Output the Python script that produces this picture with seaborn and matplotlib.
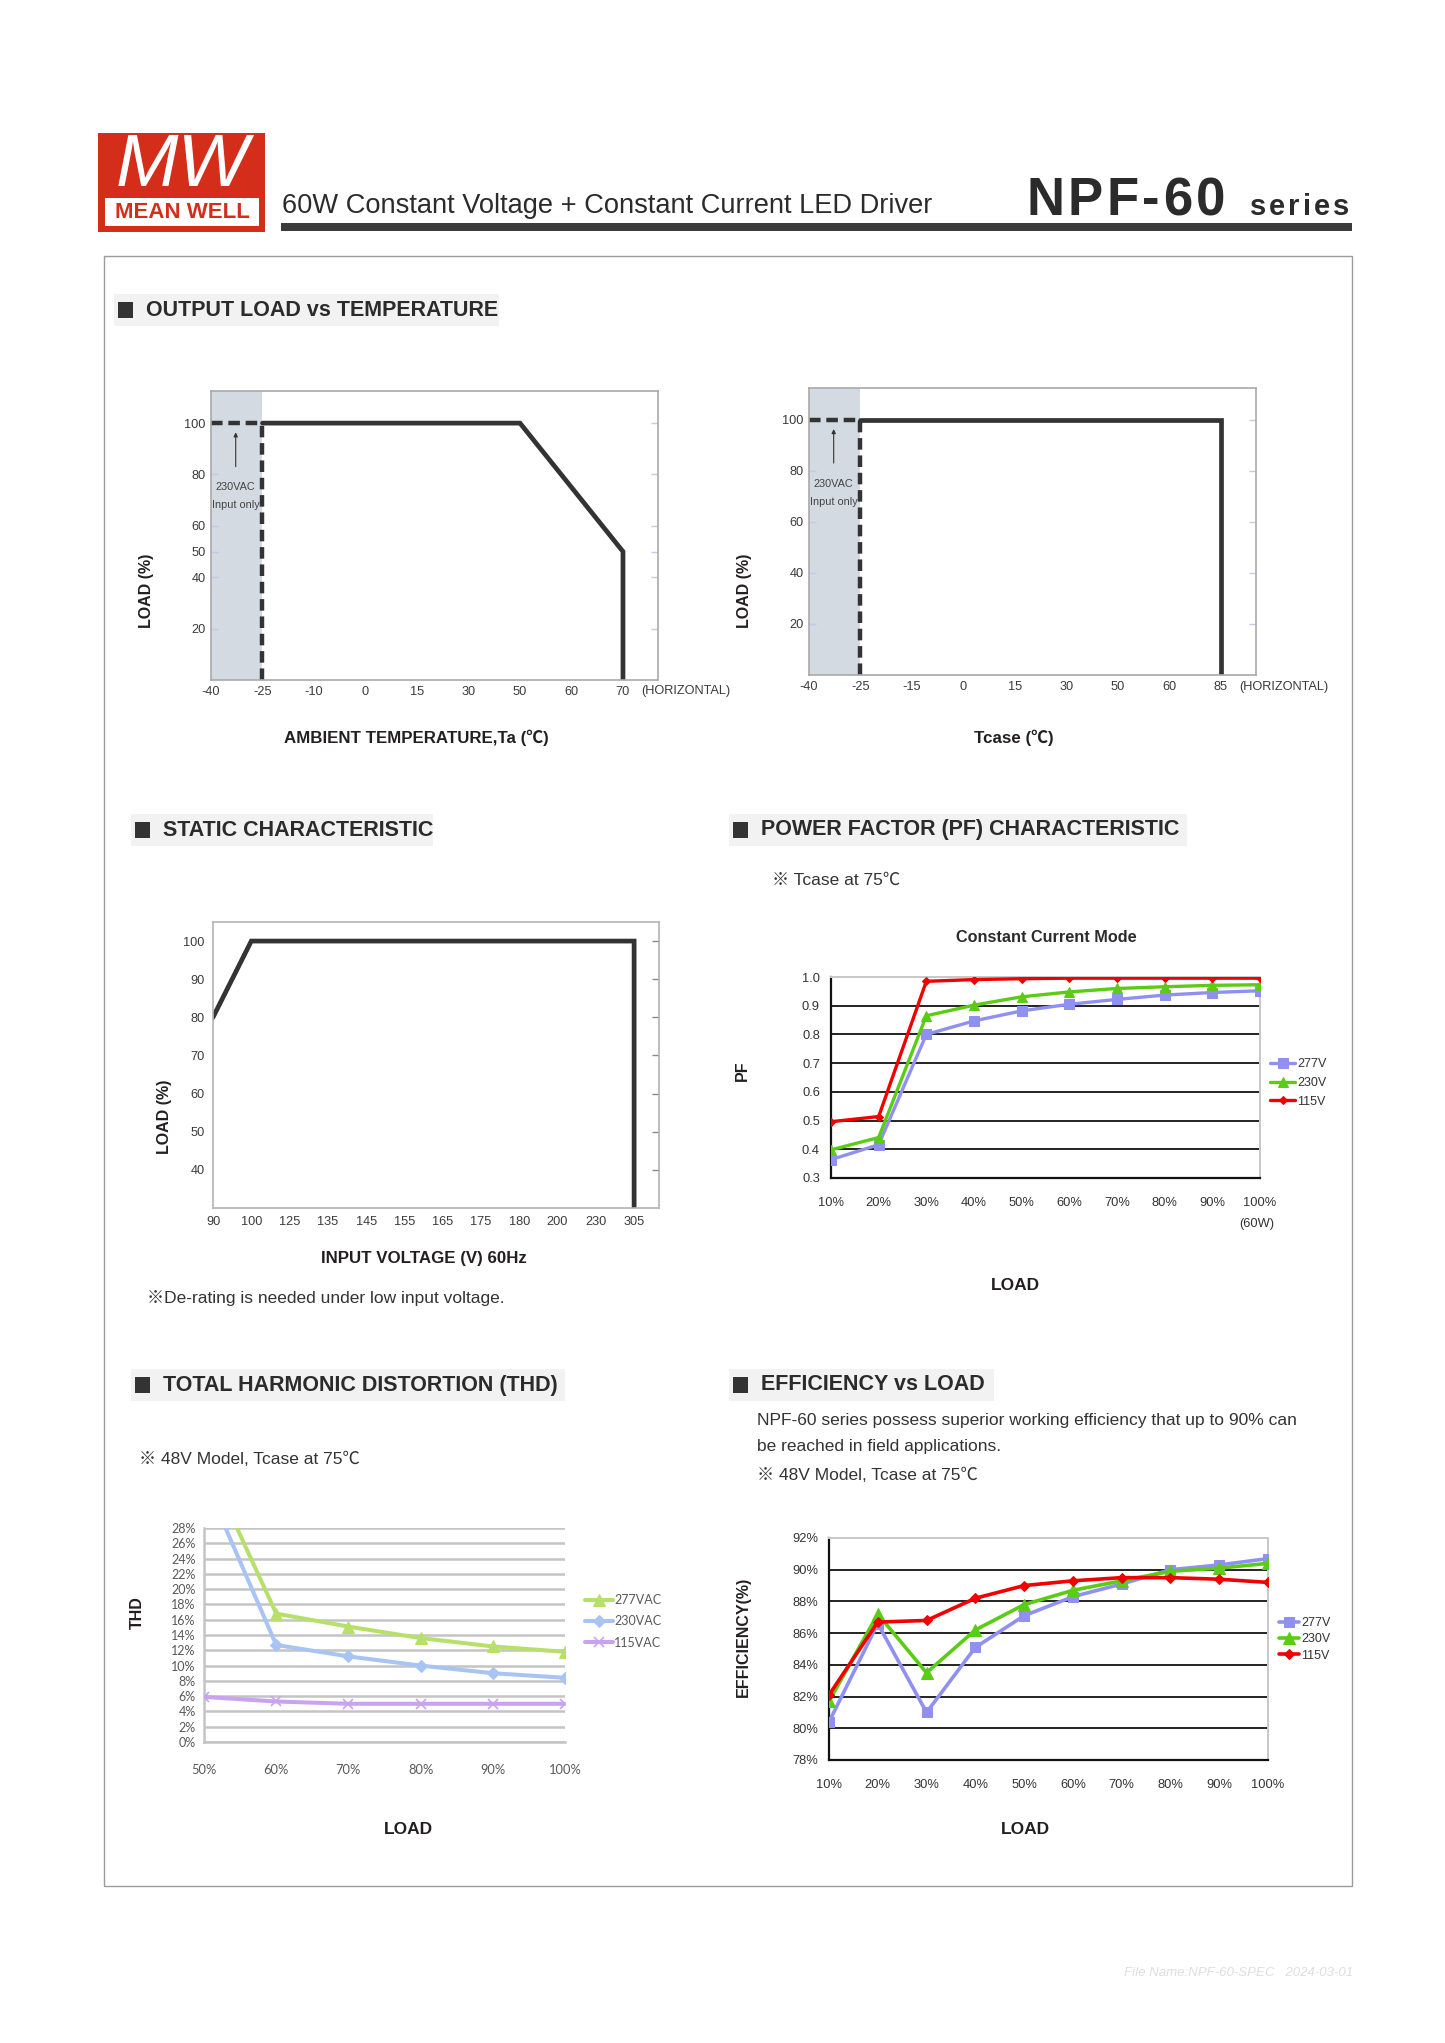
import numpy as np
import pandas as pd
import matplotlib
matplotlib.use("Agg")
import matplotlib.pyplot as plt
import seaborn as sns
from matplotlib import font_manager as fm
from matplotlib.patches import Rectangle

# ------------------------------------------------------------------ data
ta_ticks = ["-40", "-25", "-10", "0", "15", "30", "50", "60", "70"]
ta_curve_x = ["-25", "50", "70", "70"]
ta_curve_y = [100, 100, 50, 0]
ta_yticks = [20, 40, 50, 60, 80, 100]

tc_ticks = ["-40", "-25", "-15", "0", "15", "30", "50", "60", "85"]
tc_curve_x = ["-25", "85", "85"]
tc_curve_y = [100, 100, 0]
tc_yticks = [20, 40, 60, 80, 100]

ac_only_x = ["-40", "-25"]          # 230VAC-input-only region
ac_only_top = [100, 100]

vin_ticks = ["90", "100", "125", "135", "145", "155", "165", "175", "180", "200", "230", "305"]
vin_curve_x = ["90", "100", "305", "305"]
vin_curve_y = [80, 100, 100, 30]
vin_yticks = [40, 50, 60, 70, 80, 90, 100]

pf_load = [10, 20, 30, 40, 50, 60, 70, 80, 90, 100]
pf_277 = [0.364, 0.416, 0.800, 0.847, 0.882, 0.905, 0.922, 0.937, 0.946, 0.952]
pf_230 = [0.398, 0.441, 0.865, 0.902, 0.931, 0.948, 0.960, 0.966, 0.971, 0.973]
pf_115 = [0.496, 0.514, 0.985, 0.991, 0.994, 0.996, 0.996, 0.996, 0.996, 0.996]
pf_yticks = [0.3, 0.4, 0.5, 0.6, 0.7, 0.8, 0.9, 1.0]

thd_load = [50, 60, 70, 80, 90, 100]
thd_277 = [37.4, 16.8, 15.1, 13.6, 12.5, 11.8]
thd_230 = [34.5, 12.7, 11.2, 10.0, 9.0, 8.4]
thd_115 = [5.9, 5.3, 5.0, 5.0, 5.0, 5.0]
thd_yticks = list(range(0, 30, 2))

eff_load = [10, 20, 30, 40, 50, 60, 70, 80, 90, 100]
eff_277 = [80.4, 86.6, 81.0, 85.1, 87.1, 88.3, 89.1, 90.0, 90.3, 90.7]
eff_230 = [81.7, 87.2, 83.5, 86.2, 87.8, 88.7, 89.3, 89.9, 90.1, 90.4]
eff_115 = [82.1, 86.7, 86.8, 88.2, 89.0, 89.3, 89.5, 89.5, 89.4, 89.2]
eff_yticks = [78, 80, 82, 84, 86, 88, 90, 92]

# ------------------------------------------------------------------ fonts / style
sns.set_style("white")
names = {f.name for f in fm.fontManager.ttflist}
NARROW = "Liberation Sans Narrow" if "Liberation Sans Narrow" in names else "Liberation Sans"
FAM = [NARROW, "Noto Sans CJK JP", "DejaVu Sans"]
WIDE = ["Liberation Sans", "DejaVu Sans"]
XLF = ["Lato", "DejaVu Sans"]
plt.rcParams["font.family"] = FAM
plt.rcParams["axes.unicode_minus"] = False
TXT = "#231f20"

W, H = 1445, 2043
fig = plt.figure(figsize=(W / 100, H / 100), dpi=100)
fig.patch.set_facecolor("white")
REND = fig.canvas.get_renderer()


def axes_px(x0, y0, x1, y1):
    return fig.add_axes([x0 / W, 1 - y1 / H, (x1 - x0) / W, (y1 - y0) / H])


def ftext(x, y, s, **kw):
    kw.setdefault("color", TXT)
    return fig.text(x / W, 1 - y / H, s, **kw)


def frect(x0, y0, x1, y1, **kw):
    r = Rectangle((x0 / W, 1 - y1 / H), (x1 - x0) / W, (y1 - y0) / H,
                  transform=fig.transFigure, **kw)
    fig.add_artist(r)
    return r


def spaced(x0, y, s, gap, **kw):
    x = x0
    for ch in s:
        t = ftext(x, y, ch, ha="left", va="baseline", **kw)
        x += t.get_window_extent(renderer=REND).width + gap


# ------------------------------------------------------------------ header
frect(98, 133, 265, 232, color="#d42e1b", lw=0)
frect(105, 198, 259, 226, color="white", lw=0)
ftext(182, 167, "MW", ha="center", va="center", color="white", fontsize=54,
      style="italic", family=WIDE)
ftext(182, 213, "MEAN WELL", ha="center", va="center", color="#d42e1b",
      fontsize=16, weight="bold", family=WIDE)
ftext(282, 213, "60W Constant Voltage + Constant Current LED Driver", ha="left",
      va="baseline", fontsize=19.6, color="#2b2b2b")
spaced(1026, 215, "NPF-60", 3.5, fontsize=38, weight="bold", color="#2b2b2b")
spaced(1250, 215, "series", 3.0, fontsize=21, weight="bold", color="#2b2b2b")
frect(281, 223, 1352, 231, color="#3b3b3b", lw=0)

# page frame
frect(104, 256, 1352, 1886, fill=False, ec="#9c9c9c", lw=1)


def heading(xsq, y, text, bx0, bx1):
    frect(bx0, y - 16, bx1, y + 16, color="#f2f2f2", lw=0)
    frect(xsq, y - 8, xsq + 15, y + 8, color="#333333", lw=0)
    ftext(xsq + 28, y, text, ha="left", va="center", fontsize=15.5, weight="bold",
          color="#2b2b2b")


heading(118, 310, "OUTPUT LOAD vs TEMPERATURE", 114, 499)
heading(135, 830, "STATIC CHARACTERISTIC", 131, 433)
heading(733, 830, "POWER FACTOR (PF) CHARACTERISTIC", 729, 1187)
heading(135, 1385, "TOTAL HARMONIC DISTORTION (THD)", 131, 565)
heading(733, 1385, "EFFICIENCY vs LOAD", 729, 994)


# ------------------------------------------------------------------ derating charts
def derating(ax, ticks, cx, cy, yticks, xmax):
    pos = {t: i for i, t in enumerate(ticks)}
    ax.axvspan(pos[ac_only_x[0]], pos[ac_only_x[1]], color="#d3dae1", lw=0, zorder=0)
    dash = (0, (2.6, 1.3))
    sns.lineplot(x=[pos[v] for v in ac_only_x], y=ac_only_top, ax=ax, sort=False,
                 estimator=None, color="#333333", lw=3.2, linestyle=dash)
    sns.lineplot(x=[pos[ac_only_x[1]]] * 2, y=[0, ac_only_top[1]], ax=ax, sort=False,
                 estimator=None, color="#333333", lw=3.2, linestyle=dash)
    sns.lineplot(x=[pos[v] for v in cx], y=cy, ax=ax, sort=False, estimator=None,
                 color="#333333", lw=3.4, solid_joinstyle="miter")
    ax.set_xlim(0, xmax)
    ax.set_ylim(0, 112.5)
    ax.set_xticks(range(len(ticks)))
    ax.set_xticklabels(ticks)
    ax.set_yticks(yticks)
    ax.set_xlabel("")
    ax.set_ylabel("")
    for s in ax.spines.values():
        s.set_color("#a9a9a9")
        s.set_linewidth(1.2)
    ax.tick_params(axis="both", direction="in", color="#c3c9e8", length=5, width=1,
                   labelsize=9.2, labelcolor="#3a3a3a", pad=4)
    ax.tick_params(axis="y", right=True, left=True)
    xa = (pos[ac_only_x[0]] + pos[ac_only_x[1]]) / 2 - 0.02
    ax.annotate("", xy=(xa, 97.5), xytext=(xa, 82),
                arrowprops=dict(arrowstyle="-|>", color="#333333", lw=0.8, mutation_scale=6))
    ax.text(xa, 75, "230VAC", ha="center", va="center", fontsize=7.8, color="#444444")
    ax.text(xa, 68, "Input only", ha="center", va="center", fontsize=7.8, color="#444444")


ax1 = axes_px(211, 391, 658, 680)
derating(ax1, ta_ticks, ta_curve_x, ta_curve_y, ta_yticks, 8.68)
ftext(641, 691, "(HORIZONTAL)", ha="left", va="center", fontsize=9.2, color="#3a3a3a")
ftext(146, 591, "LOAD (%)", rotation=90, ha="center", va="center", fontsize=11.5,
      weight="bold", family=WIDE)
ftext(416, 738, "AMBIENT TEMPERATURE,Ta (℃)", ha="center", va="center", fontsize=12.2,
      weight="bold")

ax2 = axes_px(809, 388, 1256, 675)
derating(ax2, tc_ticks, tc_curve_x, tc_curve_y, tc_yticks, 8.69)
ftext(1239, 687, "(HORIZONTAL)", ha="left", va="center", fontsize=9.2, color="#3a3a3a")
ftext(745, 591, "LOAD (%)", rotation=90, ha="center", va="center", fontsize=11.5,
      weight="bold", family=WIDE)
ftext(1014, 738, "Tcase (℃)", ha="center", va="center", fontsize=12.2, weight="bold")

# ------------------------------------------------------------------ static characteristic
ax3 = axes_px(213, 922, 659, 1208)
vpos = {t: i for i, t in enumerate(vin_ticks)}
sns.lineplot(x=[vpos[v] for v in vin_curve_x], y=vin_curve_y, ax=ax3, sort=False,
             estimator=None, color="#333333", lw=3.4, solid_joinstyle="miter")
ax3.set_xlim(0, 11.65)
ax3.set_ylim(30, 105)
ax3.set_xticks(range(len(vin_ticks)))
ax3.set_xticklabels(vin_ticks)
ax3.set_yticks(vin_yticks)
ax3.set_xlabel("")
ax3.set_ylabel("")
for s in ax3.spines.values():
    s.set_color("#b3b3b3")
    s.set_linewidth(1.2)
ax3.tick_params(axis="both", direction="in", color="#8a8a8a", length=5, width=1,
                labelsize=9.2, labelcolor="#3a3a3a", pad=6)
ax3.tick_params(axis="y", right=True)
ftext(164, 1117, "LOAD (%)", rotation=90, ha="center", va="center", fontsize=11.5,
      weight="bold", family=WIDE)
ftext(424, 1258, "INPUT VOLTAGE (V) 60Hz", ha="center", va="center", fontsize=12.2,
      weight="bold")
ftext(147, 1298, "※De-rating is needed under low input voltage.", ha="left", va="center",
      fontsize=12.5, color="#333333")


# ------------------------------------------------------------------ PF / efficiency style
def excel_frame(ax, xl, yl, yticks, fmt, inner):
    ax.set_xlim(*xl)
    ax.set_ylim(*yl)
    ax.set_yticks(yticks)
    ax.set_yticklabels([fmt(v) for v in yticks])
    ax.set_xticks(pf_load)
    ax.set_xticklabels([f"{v}%" for v in pf_load])
    ax.set_xlabel("")
    ax.set_ylabel("")
    for v in inner:
        ax.axhline(v, color="#222222", lw=1.4, zorder=1)
    ax.spines["left"].set_color("#111111")
    ax.spines["bottom"].set_color("#111111")
    ax.spines["left"].set_linewidth(1.6)
    ax.spines["bottom"].set_linewidth(1.6)
    ax.spines["top"].set_color("#c8c8c8")
    ax.spines["right"].set_color("#c8c8c8")
    ax.spines["top"].set_linewidth(1.4)
    ax.spines["right"].set_linewidth(1.4)
    ax.tick_params(axis="x", direction="in", length=6, width=1.4, color="#111111",
                   labelsize=9.3, labelcolor="#333333", pad=14)
    ax.tick_params(axis="y", direction="out", length=4, width=1.2, color="#111111",
                   labelsize=9.3, labelcolor="#333333", pad=4)


ax4 = axes_px(831, 977, 1260, 1178)
sns.lineplot(x=pf_load, y=pf_277, ax=ax4, color="#9090f0", lw=2.4, marker="s",
             markersize=7, markeredgecolor="#9090f0", label="277V", zorder=3)
sns.lineplot(x=pf_load, y=pf_230, ax=ax4, color="#5ccb16", lw=2.4, marker="^",
             markersize=7.5, markeredgecolor="#5ccb16", label="230V", zorder=4)
sns.lineplot(x=pf_load, y=pf_115, ax=ax4, color="#f00000", lw=2.4, marker="D",
             markersize=4.5, markeredgecolor="#f00000", label="115V", zorder=5)
excel_frame(ax4, (10, 100), (0.3, 1.0), pf_yticks, lambda v: f"{v:.1f}",
            [0.4, 0.5, 0.6, 0.7, 0.8, 0.9])
h, l = ax4.get_legend_handles_labels()
ax4.legend(h, l, loc="upper left", bbox_to_anchor=(1270 / W, 1 - 1058 / H),
           bbox_transform=fig.transFigure, frameon=False, fontsize=9, handlelength=2.0,
           handletextpad=0.15, labelspacing=0.55, borderpad=0, borderaxespad=0,
           labelcolor="#333333")
ftext(1257, 1224, "(60W)", ha="center", va="center", fontsize=9.3, color="#333333")
ftext(1046, 938, "Constant Current Mode", ha="center", va="center", fontsize=11.7,
      weight="bold", color="#2b2b2b")
ftext(772, 880, "※ Tcase at 75℃", ha="left", va="center", fontsize=12.5, color="#333333")
ftext(742, 1071, "PF", rotation=90, ha="center", va="center", fontsize=11.5,
      weight="bold", family=WIDE)
ftext(1015, 1286, "LOAD", ha="center", va="center", fontsize=12.5, weight="bold")

# ------------------------------------------------------------------ efficiency
ax6 = axes_px(829, 1538, 1268, 1760)
sns.lineplot(x=eff_load, y=eff_277, ax=ax6, color="#9090f0", lw=2.6, marker="s",
             markersize=7.5, markeredgecolor="#9090f0", label="277V", zorder=3)
sns.lineplot(x=eff_load, y=eff_230, ax=ax6, color="#5ccb16", lw=2.6, marker="^",
             markersize=8, markeredgecolor="#5ccb16", label="230V", zorder=4)
sns.lineplot(x=eff_load, y=eff_115, ax=ax6, color="#f00000", lw=2.6, marker="D",
             markersize=5, markeredgecolor="#f00000", label="115V", zorder=5)
excel_frame(ax6, (10, 100), (78, 92), eff_yticks, lambda v: f"{v}%",
            [80, 82, 84, 86, 88, 90])
h, l = ax6.get_legend_handles_labels()
ax6.legend(h, l, loc="upper left", bbox_to_anchor=(1279 / W, 1 - 1617 / H),
           bbox_transform=fig.transFigure, frameon=False, fontsize=9, handlelength=1.6,
           handletextpad=0.15, labelspacing=0.35, borderpad=0, borderaxespad=0,
           labelcolor="#333333")
ftext(757, 1420, "NPF-60 series possess superior working efficiency that up to 90% can",
      ha="left", va="center", fontsize=12.5, color="#333333")
ftext(757, 1447, "be reached in field applications.", ha="left", va="center", fontsize=12.5,
      color="#333333")
ftext(757, 1475, "※ 48V Model, Tcase at 75℃", ha="left", va="center", fontsize=12.5,
      color="#333333")
ftext(743, 1637, "EFFICIENCY(%)", rotation=90, ha="center", va="center", fontsize=11.5,
      weight="bold", family=WIDE)
ftext(1025, 1830, "LOAD", ha="center", va="center", fontsize=12.5, weight="bold")

# ------------------------------------------------------------------ THD
ax5 = axes_px(204, 1528, 565, 1742)
for v in thd_yticks:
    ax5.axhline(v, color="#c4c4c4", lw=1.8, zorder=1)
sns.lineplot(x=thd_load, y=thd_277, ax=ax5, color="#b7e06a", lw=2.9, marker="^",
             markersize=8, markeredgecolor="#b7e06a", label="277VAC", zorder=3)
sns.lineplot(x=thd_load, y=thd_230, ax=ax5, color="#a8c4f2", lw=2.9, marker="D",
             markersize=6, markeredgecolor="#a8c4f2", label="230VAC", zorder=3)
sns.lineplot(x=thd_load, y=thd_115, ax=ax5, color="#c9a2f0", lw=2.9, marker="x",
             markersize=7, markeredgewidth=1.2, markeredgecolor="#c9a2f0",
             label="115VAC", zorder=3)
ax5.set_xlim(50, 100)
ax5.set_ylim(0, 28)
ax5.set_yticks(thd_yticks)
ax5.set_yticklabels([f"{v}%" for v in thd_yticks], family=XLF)
ax5.set_xticks(thd_load)
ax5.set_xticklabels([f"{v}%" for v in thd_load], family=XLF)
ax5.set_xlabel("")
ax5.set_ylabel("")
for k in ("top", "right"):
    ax5.spines[k].set_visible(False)
ax5.spines["left"].set_color("#c4c4c4")
ax5.spines["bottom"].set_color("#c4c4c4")
ax5.spines["left"].set_linewidth(1.8)
ax5.spines["bottom"].set_linewidth(1.8)
ax5.tick_params(axis="x", direction="out", length=4, width=1.2, color="#c4c4c4",
                labelsize=9.3, labelcolor="#595959", pad=12)
ax5.tick_params(axis="y", direction="out", length=4, width=1.2, color="#c4c4c4",
                labelsize=9, labelcolor="#595959", pad=2)
h, l = ax5.get_legend_handles_labels()
ax5.legend(h, l, loc="upper left", bbox_to_anchor=(585 / W, 1 - 1594 / H),
           bbox_transform=fig.transFigure, frameon=False, handlelength=2.2,
           handletextpad=0.15, labelspacing=0.75, borderpad=0, borderaxespad=0,
           labelcolor="#595959", prop={"family": XLF, "size": 9})
ftext(139, 1459, "※ 48V Model, Tcase at 75℃", ha="left", va="center", fontsize=12.5,
      color="#333333")
ftext(137, 1613, "THD", rotation=90, ha="center", va="center", fontsize=11.5,
      weight="bold", family=WIDE)
ftext(408, 1830, "LOAD", ha="center", va="center", fontsize=12.5, weight="bold")

# ------------------------------------------------------------------ footer
ftext(1353, 1973, "File Name:NPF-60-SPEC   2024-03-01", ha="right", va="center",
      fontsize=9.5, style="italic", color="#dedede", family=WIDE)

fig.savefig("out.png", dpi=100, facecolor="white")
